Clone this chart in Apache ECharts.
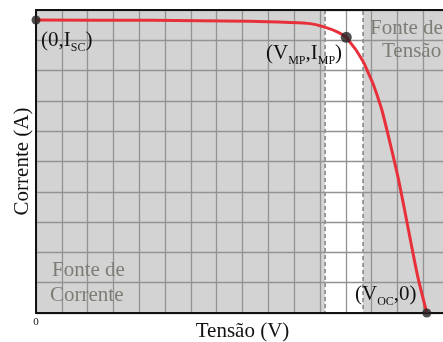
<!DOCTYPE html>
<html><head><meta charset="utf-8">
<script src="https://cdn.jsdelivr.net/npm/echarts@6/dist/echarts.min.js"></script>
<style>html,body{margin:0;padding:0;background:#fff}#c{width:443px;height:342px}</style>
</head><body><div id="c"></div>
<script>
// I-V curve (x: voltage units, y: current units)
var voltage = [0, 4.42, 8.29, 9.84, 10.62, 11.12, 11.67, 12.02, 12.20, 12.40, 12.56, 12.71, 12.88, 13.05, 13.23, 13.40, 13.72, 14.02, 14.28, 14.53, 14.79, 15.14];
var current = [9.67, 9.66, 9.63, 9.59, 9.55, 9.45, 9.28, 9.10, 8.90, 8.68, 8.46, 8.24, 7.91, 7.58, 7.15, 6.70, 5.60, 4.50, 3.40, 2.30, 1.20, 0];
// key points: (0,Isc), (Vmp,Imp), (Voc,0)
var keyV = [0, 12.02, 15.14];
var keyI = [9.67, 9.10, 0];
// regions: current source [0, bandStart], voltage source [bandEnd, xMax]
var bandStart = 11.2, bandEnd = 12.67;
var xMax = 16, yMax = 10;
var xTitle = 'Tensão (V)', yTitle = 'Corrente (A)';

var serif = '"Liberation Serif", "DejaVu Serif", serif';
var chart = echarts.init(document.getElementById('c'));
var curve = voltage.map(function (v, i) { return [v, current[i]]; });
var dots = keyV.map(function (v, i) { return [v, keyI[i]]; });
var rich = {
  a: { fontFamily: serif, fontSize: 21, fill: '#111', lineHeight: 24, verticalAlign: 'bottom' },
  s: { fontFamily: serif, fontSize: 12, fill: '#111', lineHeight: 24, verticalAlign: 'bottom', padding: [0, 0, -3, 0] }
};
var grayFont = '21px "Liberation Serif", serif';

chart.setOption({
  animation: false,
  grid: { left: 36, top: 10, bottom: 29, right: -6, outerBoundsMode: 'none', containLabel: false },
  xAxis: [{
    type: 'value', min: 0, max: xMax, interval: 1, z: 3,
    name: xTitle, nameLocation: 'middle', nameGap: 8, nameMoveOverlap: false,
    nameTextStyle: { fontFamily: serif, fontSize: 21, color: '#111' },
    axisLine: { lineStyle: { color: '#111', width: 2 } },
    axisTick: { show: false },
    axisLabel: { fontFamily: serif, fontSize: 11, color: '#111', margin: 4,
      formatter: function (v) { return v === 0 ? '0' : ''; } },
    splitLine: { show: true, lineStyle: { color: '#939393', width: 1.3 } }
  }, {
    type: 'value', min: 0, max: xMax, position: 'top', z: 3,
    axisLine: { show: true, onZero: false, lineStyle: { color: '#111', width: 2 } },
    axisTick: { show: false }, axisLabel: { show: false }, splitLine: { show: false }
  }],
  yAxis: {
    type: 'value', min: 0, max: yMax, interval: 1, z: 3,
    name: yTitle, nameLocation: 'middle', nameGap: 3, nameMoveOverlap: false,
    nameTextStyle: { fontFamily: serif, fontSize: 21, color: '#111', verticalAlign: 'bottom' },
    axisLine: { show: true, lineStyle: { color: '#111', width: 2 } },
    axisTick: { show: false }, axisLabel: { show: false },
    splitLine: { show: true, lineStyle: { color: '#939393', width: 1.3 } }
  },
  series: [{
    type: 'line', data: [], z: 1, silent: true,
    markArea: {
      silent: true,
      itemStyle: { color: '#d3d3d3', borderColor: '#808080', borderWidth: 1.5, borderType: [4, 3] },
      data: [
        [{ xAxis: 0, yAxis: 0 }, { xAxis: bandStart, yAxis: yMax }],
        [{ xAxis: bandEnd, yAxis: 0 }, { xAxis: xMax, yAxis: yMax }]
      ]
    }
  }, {
    type: 'line', data: curve, smooth: 0.25, symbol: 'none', z: 5,
    lineStyle: { color: '#e8303a', width: 3 }
  }, {
    type: 'scatter', data: dots, z: 6, symbolSize: function (d, p) { return p.dataIndex === 1 ? 11 : 9; },
    itemStyle: { color: '#222' }
  }],
  graphic: [
    { type: 'text', left: 41, top: 30, z: 10, style: { text: '{a|(0,I}{s|SC}{a|)}', rich: rich } },
    { type: 'text', left: 266, top: 43, z: 10, style: { text: '{a|(V}{s|MP}{a|,I}{s|MP}{a|)}', rich: rich } },
    { type: 'text', left: 355, top: 284, z: 10, style: { text: '{a|(V}{s|OC}{a|,0)}', rich: rich } },
    { type: 'text', left: 370, top: 18, z: 10, style: { text: 'Fonte de', font: grayFont, fill: '#7d7d75' } },
    { type: 'text', left: 382, top: 41, z: 10, style: { text: 'Tensão', font: grayFont, fill: '#7d7d75' } },
    { type: 'text', left: 52, top: 260, z: 10, style: { text: 'Fonte de', font: grayFont, fill: '#7d7d75' } },
    { type: 'text', left: 50, top: 285, z: 10, style: { text: 'Corrente', font: grayFont, fill: '#7d7d75' } }
  ]
});
</script></body></html>
